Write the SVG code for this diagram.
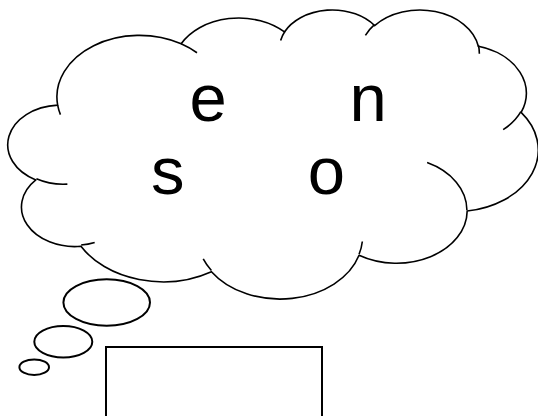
<svg xmlns="http://www.w3.org/2000/svg" width="538" height="416" viewBox="0 0 538 416">
  <style>
    .ln { fill: none; stroke: #000; stroke-linecap: butt; }
    .cl { fill: #fff; stroke: #000; stroke-width: 1.6; stroke-linejoin: round; }
    .hk { fill: none; stroke: #000; stroke-width: 1.6; }
    .bb { fill: #fff; stroke: #000; stroke-width: 2; }
    .tx { font-family: "Liberation Sans", Arial, sans-serif; font-size: 67px; fill: #000; }
  </style>
  <rect x="0" y="0" width="538" height="416" fill="#fff"/>
  <g id="cloud">
    <path class="cl" d="M57.67,105.13
      A82.54,61.48 0 0 1 181.18,43.80
      A65.18,48.61 0 0 1 284.46,31.96
      A53.35,39.77 0 0 1 374.64,25.61
      A59.36,44.12 0 0 1 478.35,46.31
      A65.18,48.65 0 0 1 521.13,112.43
      A82.81,61.68 0 0 1 467.18,211.06
      A70.71,52.63 0 0 1 359.04,255.28
      A82.52,61.65 0 0 1 211.44,271.68
      A94.36,70.53 0 0 1 80.96,246.30
      A53.29,39.59 0 0 1 35.85,179.92
      A53.11,39.77 0 0 1 57.67,105.13 Z"/>
    <path class="hk" d="M67.36,184.12 A53.11,39.77 0 0 1 36.40,178.79
      M94.68,242.47 A53.29,39.59 0 0 1 81.13,245.02
      M211.40,270.50 A82.52,61.65 0 0 1 203.24,258.86
      M362.33,241.48 A82.52,61.65 0 0 1 359.07,254.24
      M427.13,162.56 A70.71,52.63 0 0 1 466.87,210.29
      M520.86,111.72 A65.18,48.65 0 0 1 503.17,129.61
      M478.40,45.30 A59.36,44.12 0 0 1 479.34,53.75
      M365.40,35.44 A59.36,44.12 0 0 1 374.46,24.66
      M280.61,40.58 A53.35,39.77 0 0 1 285.00,31.28
      M181.11,43.73 A82.54,61.48 0 0 1 196.99,52.75
      M60.44,114.63 A82.54,61.48 0 0 1 57.67,105.13"/>
    <text class="tx" x="189.5" y="121">e</text>
    <text class="tx" x="349.6" y="121">n</text>
    <text class="tx" x="151" y="194">s</text>
    <text class="tx" x="307.7" y="194">o</text>
  </g>
  <g id="bubble-large">
    <ellipse class="bb" cx="106.7" cy="302.5" rx="43.3" ry="23.2"/>
  </g>
  <g id="bubble-medium">
    <ellipse class="bb" cx="63.3" cy="341.7" rx="29" ry="15.7"/>
  </g>
  <g id="bubble-small">
    <ellipse class="bb" cx="34.2" cy="367.2" rx="14.8" ry="7.8"/>
  </g>
  <g id="box">
    <rect class="bb" x="106" y="347" width="216" height="90" fill="none"/>
  </g>
</svg>
